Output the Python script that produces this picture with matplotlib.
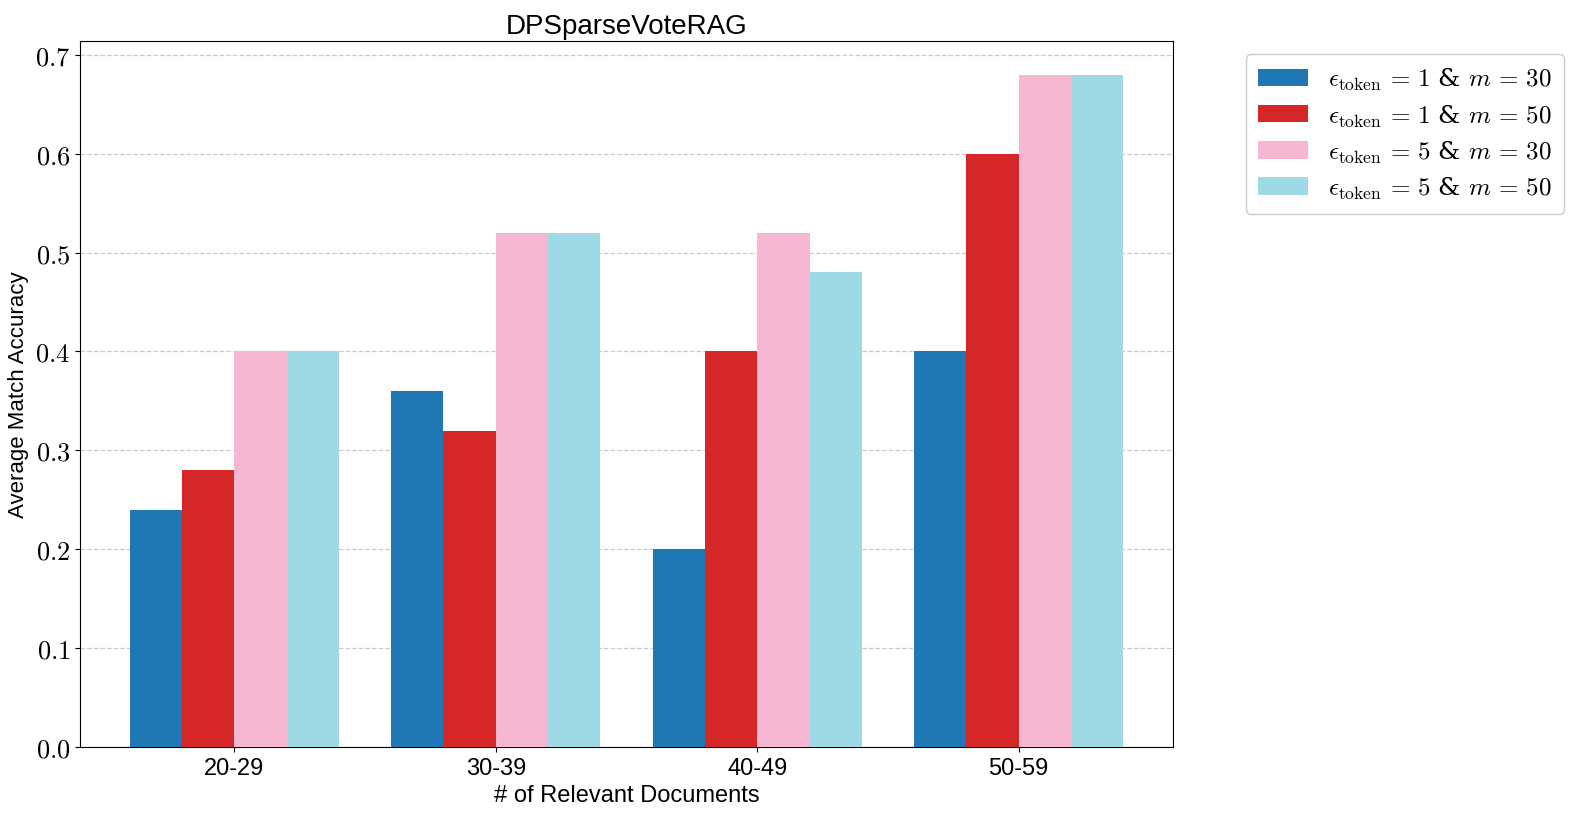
import numpy as np
import matplotlib.pyplot as plt

plt.rcParams['mathtext.fontset'] = 'cm'
plt.rcParams['font.family'] = ['Liberation Sans', 'DejaVu Sans']

groups = ["20-29", "30-39", "40-49", "50-59"]
series_labels = [
    r"$\epsilon_{\mathrm{token}}\,=\,1$ & $m\,=\,30$",
    r"$\epsilon_{\mathrm{token}}\,=\,1$ & $m\,=\,50$",
    r"$\epsilon_{\mathrm{token}}\,=\,5$ & $m\,=\,30$",
    r"$\epsilon_{\mathrm{token}}\,=\,5$ & $m\,=\,50$",
]
eps1_m30 = [0.24, 0.36, 0.20, 0.40]
eps1_m50 = [0.28, 0.32, 0.40, 0.60]
eps5_m30 = [0.40, 0.52, 0.52, 0.68]
eps5_m50 = [0.40, 0.52, 0.48, 0.68]
colors = ["#1f77b4", "#d62728", "#f7b6d2", "#9edae5"]

fig = plt.figure(figsize=(15.78, 8.29), dpi=100)
ax = fig.add_axes([80 / 1578, 1 - 748 / 829, 1093 / 1578, 706 / 829])

x = np.arange(len(groups))
width = 0.2
for i, (vals, lab, c) in enumerate(zip([eps1_m30, eps1_m50, eps5_m30, eps5_m50], series_labels, colors)):
    ax.bar(x + (i - 1.5) * width, vals, width, label=lab, color=c, zorder=3)

ax.set_xticks(x)
ax.set_xticklabels(groups, fontsize=17)
yt = np.arange(0, 0.71, 0.1)
ax.set_yticks(yt)
ax.set_yticklabels([f"${v:.1f}$" for v in yt], fontsize=19)
ax.grid(axis='y', linestyle='--', color='#cccccc', linewidth=0.9, zorder=0)
ax.set_xlabel("# of Relevant Documents", fontsize=17)
ax.set_ylabel("Average Match Accuracy", fontsize=16)
ax.set_title("DPSparseVoteRAG", fontsize=20)
leg = ax.legend(loc='upper left', bbox_to_anchor=(1.055, 1), fontsize=18, framealpha=1,
                borderpad=0.5, labelspacing=0.4, handlelength=2.0)
for t in leg.get_texts():
    t.set_fontfamily(['DejaVu Serif'])

fig.savefig("out.png", dpi=100)
